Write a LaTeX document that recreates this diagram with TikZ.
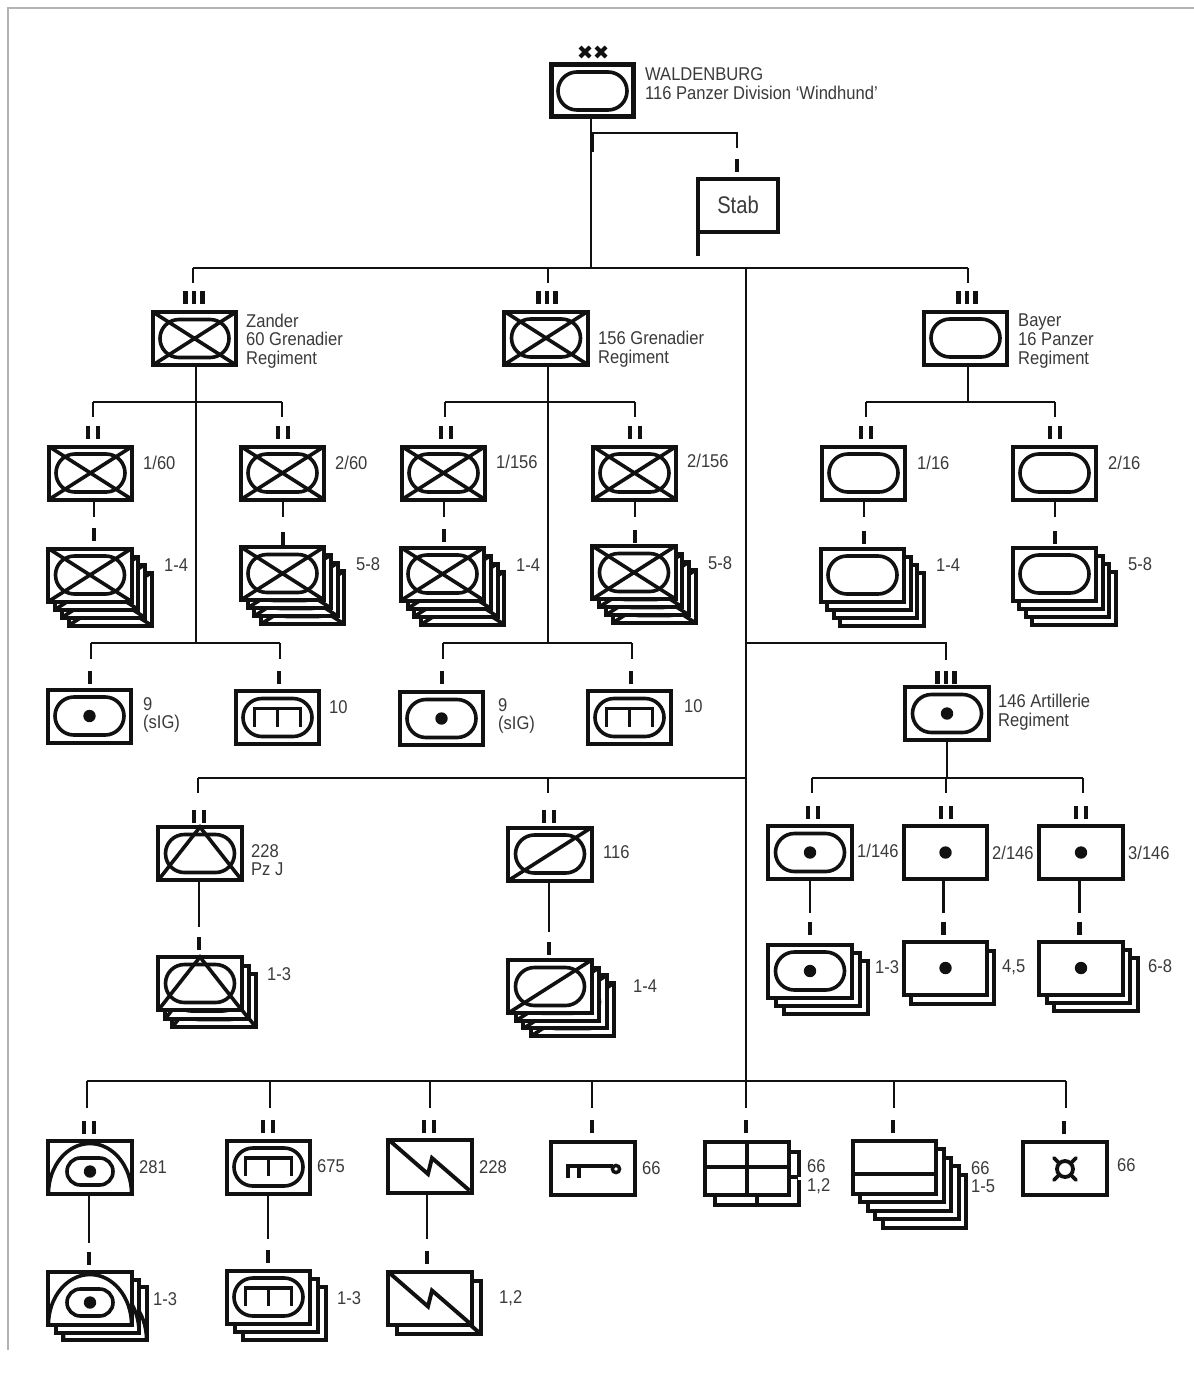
\documentclass[tikz,border=0pt]{standalone}
\usepackage{fontspec}
\setmainfont[FakeStretch=0.895]{Liberation Sans}
\newfontfamily\stabfont[FakeStretch=0.84]{Liberation Sans}
\definecolor{ink}{HTML}{111111}
\definecolor{labelink}{HTML}{3A3A3A}
\definecolor{framegray}{HTML}{B4B4B4}
\tikzset{
  conn/.style={draw=ink,line width=2.5pt},
  tickbar/.style={draw=ink,line width=4.8pt},
  card/.style={draw=ink,fill=white,line width=4pt,rectangle,minimum width=83.2pt,minimum height=53pt,inner sep=0pt},
  cardback/.style={draw=ink,fill=white,line width=4pt},
  sym/.style={draw=ink,line width=3.6pt},
  lab/.style={anchor=west,inner sep=0pt,align=left,text=labelink,font=\fontsize{18.5}{18.6}\selectfont},
}
\newcommand\Oval{\draw[sym,rounded corners=18.9pt] (-34.5,-19) rectangle (34.5,19);}
\newcommand\Cross{\draw[sym] (-41.6,-26.5) -- (41.6,26.5) (-41.6,26.5) -- (41.6,-26.5);}
\newcommand\Dotmark{\fill[ink] (0,0) circle (6.2);}
\newcommand\Gun{\draw[sym,line width=3.8pt] (-23,9) -- (-23,-9) -- (23,-9) -- (23,9) (0,-9) -- (0,9);}
\newcommand\Inf{\Oval\Cross}
\newcommand\Arty{\Oval\Dotmark}
\newcommand\Guns{\Oval\Gun}
\newcommand\Tri{\Oval\draw[sym,line join=miter] (-41.6,26.5) -- (0,-26.5) -- (41.6,26.5);}
\newcommand\Slash{\Oval\draw[sym] (-41.6,26.5) -- (41.6,-26.5);}
\newcommand\Dome{\draw[sym] (-41.6,26.5) arc[start angle=180,end angle=0,x radius=41.6pt,y radius=50.5pt];
  \draw[sym,rounded corners=13.4pt] (-23,-9.5) rectangle (23,17.5);
  \fill[ink] (0,4) circle (6.2);}
\newcommand\Bolt{\draw[sym,line width=3.9pt,line join=miter] (-41.6,-26.5) -- (-2,8) -- (2,-8) -- (39.5,24.5);}
\newcommand\Key{\draw[sym,line width=3.9pt] (-25,10) -- (-25,-2) -- (20,-2) (-14,-2) -- (-14,10);
  \draw[sym,line width=3.4pt] (23,1) circle (3.6);}
\newcommand\Grid{\draw[sym,line width=3.8pt] (-41.6,-1) -- (41.6,-1) (0,-26.5) -- (0,26.5);}
\newcommand\Band{\draw[sym,line width=3.8pt] (-41.6,7) -- (41.6,7);}
\newcommand\Wheel{\draw[sym,line width=3.8pt] (0,1) circle (8);
  \draw[sym,line width=3.8pt,line cap=round] (-6,-5) -- (-11,-10) (6,-5) -- (11,-10) (-6,7) -- (-11,12) (6,7) -- (11,12);}
\newcommand\Blank{}
% name, x, y, front symbol, back symbol, extra cards, dx, dy
\newcommand\mil[8]{%
  \ifnum#6>0
    \foreach \k in {#6,...,1}{%
      \begin{scope}[shift={({#2+\k*#7},{#3+\k*#8})}]
        \draw[cardback] (-41.6,-26.5) rectangle (41.6,26.5);
        #5
      \end{scope}}%
  \fi
  \node[card] (#1) at (#2,#3) {};
  \begin{scope}[shift={(#2,#3)}] #4 \end{scope}}
\newcommand\ti[2]{\draw[tickbar] (#1,#2) -- (#1,#2+13);}
\newcommand\tii[2]{\draw[tickbar] (#1-5,#2) -- (#1-5,#2+13) (#1+5,#2) -- (#1+5,#2+13);}
\newcommand\tiii[2]{\draw[tickbar] (#1-8.5,#2) -- (#1-8.5,#2+13) (#1,#2) -- (#1,#2+13) (#1+8.5,#2) -- (#1+8.5,#2+13);}
\newcommand\vlink[4]{\coordinate (#2) at (#3,#4); \draw[conn] (#1.south -| #2) -- (#2);}
\newcommand\lab[4]{\node[lab] (#1) at (#2,#3) {#4};}
\begin{document}
\begin{tikzpicture}[x=1pt,y=-1pt]
\useasboundingbox (0,0) rectangle (1194,1374);
\fill[white] (0,0) rectangle (1194,1374);
\draw[framegray,line width=2pt] (8,1350) -- (8,8) -- (1194,8);

% Division and staff
\node[card,line width=5pt,minimum width=82pt,minimum height=52pt] (div) at (592.5,90.5) {};
\begin{scope}[shift={(592.5,91)}]\Oval\end{scope}
\draw[ink,line width=4.2pt] (580,47) -- (590,57) (580,57) -- (590,47) (596,47) -- (606,57) (596,57) -- (606,47);
\lab{ldiv}{645}{83.5}{WALDENBURG\\116 Panzer Division ‘Windhund’}
\node[card,minimum width=80pt,minimum height=53pt,text=labelink,font=\stabfont\fontsize{24}{26}\selectfont] (stab) at (738,205.5) {\raisebox{1pt}{Stab}};
\coordinate (staff) at (698,256);
\draw[draw=ink,line width=4.5pt] (stab.south west -| staff) -- (staff);
\coordinate (stabv) at (737,148);
\coordinate (stabj) at (592.5,133);
\coordinate (stabe) at (592.5,152);
\draw[conn] (stabv) -- (stabv |- stabj) -- (stabj) -- (stabe);
\ti{737}{159}

% Top bus
\vlink{div}{mtop}{591}{268}
\coordinate (busl) at (193,268);
\coordinate (busr) at (968,268);
\coordinate (dza) at (193,283);
\coordinate (dgr) at (548,283);
\coordinate (dba) at (968,283);
\draw[conn] (busl) -- (busr) (busl) -- (dza) (dgr |- busl) -- (dgr) (busr) -- (dba);
\coordinate (maintop) at (746,268);
\coordinate (mainbot) at (746,1108);
\draw[conn] (maintop) -- (mainbot);
\tiii{194}{291}\tiii{547}{291}\tiii{967}{291}

% Regiments
\mil{zander}{194.5}{338.5}{\Inf}{\Inf}{0}{0}{0}
\mil{gren}{546}{338}{\Inf}{\Inf}{0}{0}{0}
\mil{bayer}{965.5}{338}{\Oval}{\Oval}{0}{0}{0}
\lab{lza}{246}{341}{Zander\\60 Grenadier\\Regiment}
\lab{lgr}{598}{349}{156 Grenadier\\Regiment}
\lab{lba}{1018}{341}{Bayer\\16 Panzer\\Regiment}

% Regimental trees
\vlink{zander}{zv}{196}{643}
\vlink{gren}{gv}{548}{643}
\vlink{bayer}{bv}{968}{402}
\foreach \a/\b/\y in {za/93/402,zb/282/402,ga/445/402,gb/635/402,ba/866/402,bb/1055/402}{
  \coordinate (\a) at (\b,\y);
  \draw[conn] (\a) -- ++(0,15);
}
\draw[conn] (za) -- (zb) (ga) -- (gb) (ba) -- (bb);
\tii{93}{426}\tii{283}{426}\tii{446}{426}\tii{635}{426}\tii{866}{426}\tii{1055}{426}

% Battalions
\mil{b160}{90.5}{473}{\Inf}{\Inf}{0}{0}{0}
\mil{b260}{282.5}{473}{\Inf}{\Inf}{0}{0}{0}
\mil{b1156}{443.5}{473}{\Inf}{\Inf}{0}{0}{0}
\mil{b2156}{634.5}{473}{\Inf}{\Inf}{0}{0}{0}
\mil{b116}{863.5}{473}{\Oval}{\Oval}{0}{0}{0}
\mil{b216}{1054.5}{473}{\Oval}{\Oval}{0}{0}{0}
\lab{l160}{143}{463}{1/60}
\lab{l260}{335}{463}{2/60}
\lab{l1156}{496}{462}{1/156}
\lab{l2156}{687}{461}{2/156}
\lab{l116}{917}{463}{1/16}
\lab{l216}{1108}{463}{2/16}
\vlink{b160}{v160}{94}{517}
\vlink{b260}{v260}{283}{517}
\vlink{b1156}{v1156}{444}{517}
\vlink{b2156}{v2156}{635}{517}
\vlink{b116}{v116}{864}{517}
\vlink{b216}{v216}{1055}{517}
\ti{94}{528}\ti{283}{532}\ti{444}{529}\ti{635}{530}\ti{864}{531}\ti{1055}{531}

% Companies
\mil{c160}{90}{575}{\Inf}{\Inf}{3}{6.7}{8}
\mil{c260}{282.5}{573.5}{\Inf}{\Inf}{3}{6.7}{8}
\mil{c1156}{442.5}{574}{\Inf}{\Inf}{3}{6.7}{8}
\mil{c2156}{634}{572.5}{\Inf}{\Inf}{3}{6.7}{8}
\mil{c116}{862.5}{575}{\Oval}{\Oval}{3}{6.5}{8}
\mil{c216}{1054.5}{574}{\Oval}{\Oval}{3}{6.5}{8}
\lab{lc160}{164}{565}{1-4}
\lab{lc260}{356}{564}{5-8}
\lab{lc1156}{516}{565}{1-4}
\lab{lc2156}{708}{563}{5-8}
\lab{lc116}{936}{565}{1-4}
\lab{lc216}{1128}{564}{5-8}

% Heavy companies
\foreach \a/\b in {zh/91,zg/280,gh/443,gg/632}{
  \coordinate (\a) at (\b,643);
  \draw[conn] (\a) -- ++(0,16);
}
\draw[conn] (zh) -- (zg) (gh) -- (gg);
\ti{90}{671}\ti{279}{671}\ti{442}{671}\ti{631}{671}
\mil{zsig}{89.5}{716}{\Arty}{\Arty}{0}{0}{0}
\mil{zten}{277.5}{717.5}{\Guns}{\Guns}{0}{0}{0}
\mil{gsig}{441.5}{718.5}{\Arty}{\Arty}{0}{0}{0}
\mil{gten}{629.5}{717.5}{\Guns}{\Guns}{0}{0}{0}
\lab{lzs}{143}{715}{9\\(sIG)}
\lab{lzt}{329}{707}{10}
\lab{lgs}{498}{716}{9\\(sIG)}
\lab{lgt}{684}{706}{10}

% Artillery
\coordinate (arj) at (746,643);
\coordinate (ard) at (946,660);
\draw[conn] (arj) -- (arj -| ard) -- (ard);
\tiii{946}{671}
\mil{art}{947}{713.5}{\Arty}{\Arty}{0}{0}{0}
\lab{lart}{998}{712}{146 Artillerie\\Regiment}
\vlink{art}{artv}{947}{778}
\foreach \a/\b in {aa/812,ab/946,ac/1083}{
  \coordinate (\a) at (\b,778);
  \draw[conn] (\a) -- ++(0,15);
}
\draw[conn] (aa) -- (ac);
\tii{813}{806}\tii{946}{806}\tii{1081}{806}
\mil{a1}{810}{852.5}{\Arty}{\Arty}{0}{0}{0}
\mil{a2}{945.5}{852.5}{\Dotmark}{\Dotmark}{0}{0}{0}
\mil{a3}{1081}{852.5}{\Dotmark}{\Dotmark}{0}{0}{0}
\lab{la1}{857}{851}{1/146}
\lab{la2}{992}{853}{2/146}
\lab{la3}{1128}{853}{3/146}
\vlink{a1}{av1}{810}{913}
\vlink{a2}{av2}{943.5}{913}
\vlink{a3}{av3}{1079.5}{913}
\ti{810}{922}\ti{943.5}{922}\ti{1079.5}{922}
\mil{ac1}{810}{971}{\Arty}{\Blank}{2}{8}{8}
\mil{ac2}{945.5}{968}{\Dotmark}{\Blank}{1}{7}{9}
\mil{ac3}{1081}{968}{\Dotmark}{\Blank}{2}{7.5}{8}
\lab{lac1}{875}{967}{1-3}
\lab{lac2}{1002}{967}{4,5}
\lab{lac3}{1148}{966}{6-8}

% Anti-tank and recon
\coordinate (tj) at (746,778);
\coordinate (ta) at (198,778);
\coordinate (tb) at (548,778);
\draw[conn] (tj) -- (ta) (ta) -- ++(0,15) (tb) -- ++(0,15);
\tii{199}{810}\tii{549}{810}
\mil{pzj}{200}{853.5}{\Tri}{\Tri}{0}{0}{0}
\mil{rec}{550}{854}{\Slash}{\Slash}{0}{0}{0}
\lab{lpzj}{251}{860}{228\\Pz J}
\lab{lrec}{603}{852}{116}
\vlink{pzj}{pzv}{199}{927}
\vlink{rec}{recv}{549}{932}
\ti{199}{937}\ti{549}{942}
\mil{pzc}{200}{983.5}{\Tri}{\Tri}{2}{7}{8.5}
\mil{recc}{550}{986.5}{\Slash}{\Slash}{3}{7.5}{7.7}
\lab{lpzc}{267}{974}{1-3}
\lab{lrecc}{633}{986}{1-4}

% Bottom bus
\foreach \a/\b in {u1/87,u2/270,u3/430,u4/592,u6/894,u7/1066}{
  \coordinate (\a) at (\b,1081);
  \draw[conn] (\a) -- ++(0,27);
}
\draw[conn] (u1) -- (u7);
\tii{89}{1121}\tii{268}{1120}\tii{429}{1120}\ti{592}{1120}\ti{746}{1120}\ti{893}{1120}\ti{1064}{1121}
\mil{n281}{90}{1167.5}{\Dome}{\Dome}{0}{0}{0}
\mil{n675}{268.5}{1167}{\Guns}{\Guns}{0}{0}{0}
\mil{n228}{430}{1166}{\Bolt}{\Bolt}{0}{0}{0}
\mil{nkey}{593}{1168}{\Key}{\Key}{0}{0}{0}
\mil{ngrid}{747}{1168}{\Grid}{\Grid}{1}{10}{10}
\draw[white,line width=3pt] (798,1178) -- (802,1178);
\mil{nband}{894.5}{1167}{\Band}{\Blank}{4}{7.5}{8.5}
\mil{nwheel}{1065}{1168}{\Wheel}{\Wheel}{0}{0}{0}
\lab{ln281}{139}{1167}{281}
\lab{ln675}{317}{1166}{675}
\lab{ln228}{479}{1167}{228}
\lab{lnkey}{642}{1168}{66}
\lab{lngrid}{807}{1177}{66\\1,2}
\lab{lnband}{971}{1177}{66\\1-5}
\lab{lnwheel}{1117}{1165}{66}
\vlink{n281}{nv1}{89}{1243}
\vlink{n675}{nv2}{268}{1239}
\vlink{n228}{nv3}{427}{1239}
\ti{89}{1252}\ti{268}{1250}\ti{427}{1251}
\mil{m281}{90}{1298.5}{\Dome}{\Dome}{2}{7.5}{7.5}
\mil{m675}{268.5}{1297}{\Guns}{\Blank}{2}{8}{8}
\mil{m228}{430}{1298.5}{\Bolt}{\Bolt}{1}{9}{9}
\lab{lm281}{153}{1299}{1-3}
\lab{lm675}{337}{1298}{1-3}
\lab{lm228}{499}{1298}{1,2}
\end{tikzpicture}
\end{document}
